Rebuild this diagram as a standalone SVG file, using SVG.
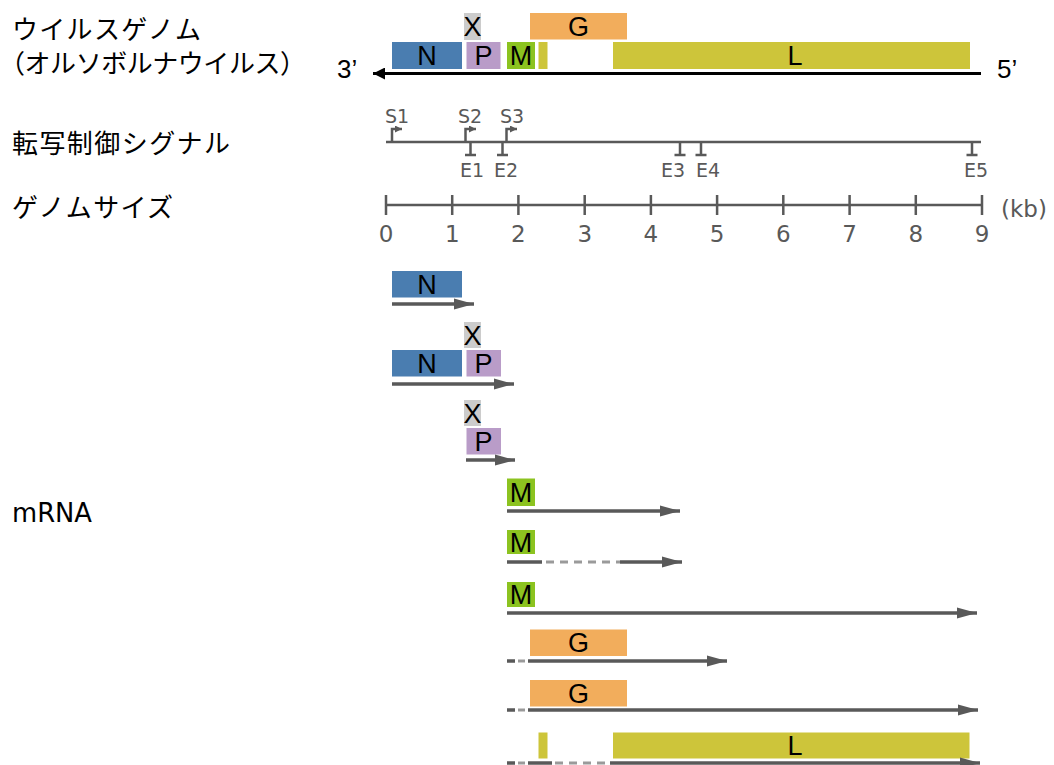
<svg xmlns="http://www.w3.org/2000/svg" width="1054" height="765" viewBox="0 0 1054 765">
<style>
.jp{font-family:"Noto Sans CJK JP",sans-serif;font-size:26px;fill:#000}
.gl{font-family:"Liberation Sans",Arial,sans-serif;font-size:27px;fill:#000;text-anchor:middle}
.end{font-family:"Liberation Sans",Arial,sans-serif;font-size:26px;fill:#000}
.sm{font-family:"DejaVu Sans",Verdana,sans-serif;font-size:19px;fill:#595959;text-anchor:middle}
.num{font-family:"DejaVu Sans",Verdana,sans-serif;font-size:23px;fill:#595959;text-anchor:middle}
.ax{stroke:#595959;stroke-width:2.5;fill:none}
.mr{stroke:#595959;stroke-width:3.5;fill:none}
.dl{stroke:#9a9a9a;stroke-width:3;fill:none;stroke-dasharray:8,6}
.N{fill:#4a7db0}.P{fill:#b99cc8}.X{fill:#cccccc}.M{fill:#8cc320}.G{fill:#f2ad5c}.L{fill:#cdc53a}
</style>
<defs>
<marker id="ah" markerUnits="userSpaceOnUse" markerWidth="20" markerHeight="12" refX="20" refY="6" orient="auto"><path d="M0,0.5 L20,6 L0,11.5 Z" fill="#595959"/></marker>
<marker id="bh" markerUnits="userSpaceOnUse" markerWidth="12" markerHeight="12" refX="12" refY="6" orient="auto"><path d="M0,0 L12,6 L0,12 Z" fill="#000"/></marker>
<marker id="sh" markerUnits="userSpaceOnUse" markerWidth="7" markerHeight="7" refX="7" refY="3.5" orient="auto"><path d="M0,0 L7,3.5 L0,7 Z" fill="#595959"/></marker>
</defs>

<g id="labels">
<text class="jp" x="12" y="39" textLength="189">ウイルスゲノム</text>
<text class="jp" x="-1" y="73" textLength="307">（オルソボルナウイルス）</text>
<text class="jp" x="12" y="153" textLength="218">転写制御シグナル</text>
<text class="jp" x="12" y="217" textLength="161">ゲノムサイズ</text>
<text x="12" y="522" font-family="DejaVu Sans,Verdana,sans-serif" font-size="26" fill="#000" textLength="80" lengthAdjust="spacingAndGlyphs">mRNA</text>
</g>

<g id="genome">
<rect class="N" x="392" y="42" width="70" height="27"/>
<text class="gl" x="427" y="65">N</text>
<rect class="X" x="464" y="13" width="17" height="27"/>
<text class="gl" x="472.5" y="36">X</text>
<rect class="P" x="466.5" y="42" width="34" height="27"/>
<text class="gl" x="483.5" y="65">P</text>
<rect class="M" x="507" y="42" width="28" height="27"/>
<text class="gl" x="521" y="65">M</text>
<rect class="L" x="538.5" y="42" width="9" height="27"/>
<rect class="G" x="530" y="13" width="97" height="26.5"/>
<text class="gl" x="578.5" y="36">G</text>
<rect class="L" x="613" y="42" width="357" height="27"/>
<text class="gl" x="795" y="65">L</text>
<line x1="981" y1="73.5" x2="373" y2="73.5" stroke="#000" stroke-width="3" marker-end="url(#bh)"/>
<text class="end" x="337" y="78">3’</text>
<text class="end" x="997" y="78">5’</text>
</g>

<g id="signals">
<line class="ax" x1="386" y1="142" x2="981" y2="142"/>
<path class="ax" d="M392,142 V129 H402" stroke-width="2" marker-end="url(#sh)"/>
<path class="ax" d="M465.5,142 V129 H476" stroke-width="2" marker-end="url(#sh)"/>
<path class="ax" d="M506.5,142 V129 H517" stroke-width="2" marker-end="url(#sh)"/>
<path class="ax" stroke-width="2" d="M470.5,142 V155 M465,155 H476 M502.5,142 V155 M497,155 H508 M680,142 V155 M674.5,155 H685.5 M701,142 V155 M695.5,155 H706.5 M972,142 V155 M966.5,155 H977.5"/>
<text class="sm" x="397" y="123">S1</text>
<text class="sm" x="470" y="123">S2</text>
<text class="sm" x="512" y="123">S3</text>
<text class="sm" x="472" y="177">E1</text>
<text class="sm" x="506" y="177">E2</text>
<text class="sm" x="673" y="177">E3</text>
<text class="sm" x="708" y="177">E4</text>
<text class="sm" x="976" y="177">E5</text>
</g>

<g id="scale">
<line class="ax" x1="386" y1="205" x2="982" y2="205"/>
<path class="ax" d="M386,195 V215 M452.2,195 V215 M518.4,195 V215 M584.7,195 V215 M650.9,195 V215 M717.1,195 V215 M783.3,195 V215 M849.6,195 V215 M915.8,195 V215 M982,195 V215"/>
<text class="num" x="386" y="242">0</text>
<text class="num" x="452.2" y="242">1</text>
<text class="num" x="518.4" y="242">2</text>
<text class="num" x="584.7" y="242">3</text>
<text class="num" x="650.9" y="242">4</text>
<text class="num" x="717.1" y="242">5</text>
<text class="num" x="783.3" y="242">6</text>
<text class="num" x="849.6" y="242">7</text>
<text class="num" x="915.8" y="242">8</text>
<text class="num" x="982" y="242">9</text>
<text class="num" x="1001" y="217" style="text-anchor:start">(kb)</text>
</g>

<g id="mrna-N">
<rect class="N" x="392" y="271" width="70" height="26.5"/>
<text class="gl" x="427" y="294">N</text>
</g>
<g id="mrna-NP">
<rect class="X" x="464" y="322" width="17" height="26"/>
<text class="gl" x="472.5" y="345">X</text>
<rect class="N" x="392" y="350" width="70" height="26.5"/>
<text class="gl" x="427" y="373">N</text>
<rect class="P" x="466.5" y="350" width="34.5" height="26.5"/>
<text class="gl" x="483.5" y="373">P</text>
</g>
<g id="mrna-P">
<rect class="X" x="464" y="400" width="17" height="26"/>
<text class="gl" x="472.5" y="423">X</text>
<rect class="P" x="466.5" y="428" width="34.5" height="26.5"/>
<text class="gl" x="483.5" y="451">P</text>
</g>
<g id="mrna-M1">
<rect class="M" x="507" y="478.5" width="28" height="27.5"/>
<text class="gl" x="521" y="502">M</text>
</g>
<g id="mrna-M2">
<rect class="M" x="507" y="530" width="28" height="24"/>
<text class="gl" x="521" y="552">M</text>
</g>
<g id="mrna-M3">
<rect class="M" x="507" y="582" width="28" height="25"/>
<text class="gl" x="521" y="604">M</text>
</g>
<g id="mrna-G1">
<rect class="G" x="530" y="629.5" width="97" height="26.5"/>
<text class="gl" x="578.5" y="652">G</text>
</g>
<g id="mrna-G2">
<rect class="G" x="530" y="680" width="97" height="26.5"/>
<text class="gl" x="578.5" y="703">G</text>
</g>
<g id="mrna-L">
<rect class="L" x="538.5" y="732.5" width="9" height="26"/>
<rect class="L" x="613" y="732.5" width="356.5" height="26"/>
<text class="gl" x="795" y="755">L</text>
</g>

<g id="connectors">
<line class="mr" x1="392" y1="304" x2="474" y2="304" marker-end="url(#ah)"/>
<line class="mr" x1="392" y1="384" x2="514" y2="384" marker-end="url(#ah)"/>
<line class="mr" x1="466" y1="460" x2="515" y2="460" marker-end="url(#ah)"/>
<line class="mr" x1="507" y1="511" x2="680" y2="511" marker-end="url(#ah)"/>
<line class="mr" x1="507" y1="562" x2="542" y2="562"/>
<line class="dl" x1="546" y1="562" x2="620" y2="562"/>
<line class="mr" x1="620" y1="562" x2="682" y2="562" marker-end="url(#ah)"/>
<line class="mr" x1="507" y1="613" x2="977" y2="613" marker-end="url(#ah)"/>
<line class="mr" x1="507" y1="661" x2="515" y2="661"/>
<line class="dl" x1="518" y1="661" x2="525" y2="661" stroke-dasharray="none"/>
<line class="mr" x1="528" y1="661" x2="727" y2="661" marker-end="url(#ah)"/>
<line class="mr" x1="507" y1="710" x2="515" y2="710"/>
<line class="dl" x1="518" y1="710" x2="525" y2="710" stroke-dasharray="none"/>
<line class="mr" x1="528" y1="710" x2="978" y2="710" marker-end="url(#ah)"/>
<line class="mr" x1="507" y1="763" x2="515" y2="763"/>
<line class="dl" x1="518" y1="763" x2="525" y2="763" stroke-dasharray="none"/>
<line class="mr" x1="528" y1="763" x2="552" y2="763"/>
<line class="dl" x1="555" y1="763" x2="607" y2="763"/>
<line class="mr" x1="610" y1="763" x2="980" y2="763" marker-end="url(#ah)"/>
</g>
</svg>
